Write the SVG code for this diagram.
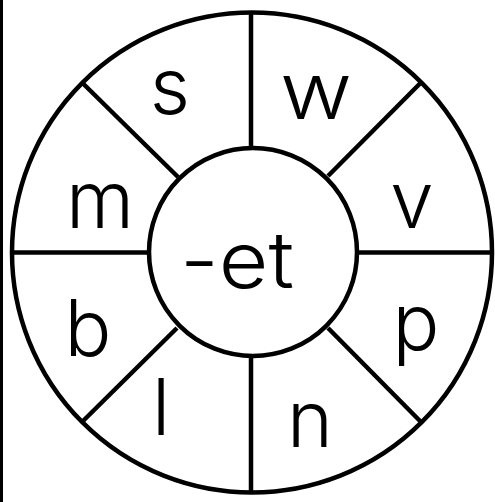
<svg xmlns="http://www.w3.org/2000/svg" width="495" height="502" viewBox="0 0 495 502">
<style>
.ln{stroke:#000;stroke-width:4.5;fill:none;stroke-linecap:butt}
.t{font-family:"Inter","Liberation Sans","DejaVu Sans",sans-serif;font-weight:300;font-size:78px;fill:#000;text-anchor:middle}
</style>
<rect x="0" y="0" width="495" height="502" fill="#fff"/>
<rect x="0" y="0" width="3" height="502" fill="#000"/>
<g id="wheel">
<circle class="ln" cx="252" cy="252.5" r="240"/>
<circle class="ln" cx="253" cy="252" r="104"/>
</g>
<g id="connectors">
<line class="ln" x1="251" y1="12.5" x2="251" y2="148"/>
<line class="ln" x1="251" y1="356" x2="251" y2="492.5"/>
<line class="ln" x1="12" y1="252.5" x2="149" y2="252.5"/>
<line class="ln" x1="357" y1="252.5" x2="492" y2="252.5"/>
<line class="ln" x1="82" y1="82.5" x2="178" y2="177"/>
<line class="ln" x1="421" y1="82.5" x2="328" y2="176"/>
<line class="ln" x1="82" y1="422" x2="177" y2="328"/>
<line class="ln" x1="421" y1="422" x2="328" y2="328"/>
</g>
<g id="center"><text class="t" x="237" y="288" textLength="114" lengthAdjust="spacingAndGlyphs">-et</text></g>
<g id="s"><text class="t" x="170" y="114">s</text></g>
<g id="w"><text class="t" x="316" y="119" textLength="72" lengthAdjust="spacingAndGlyphs">w</text></g>
<g id="m"><text class="t" x="100" y="228">m</text></g>
<g id="v"><text class="t" x="412" y="228">v</text></g>
<g id="b"><text class="t" x="88" y="356">b</text></g>
<g id="p"><text class="t" x="416" y="350">p</text></g>
<g id="l"><text class="t" x="161" y="435">l</text></g>
<g id="n"><text class="t" x="310" y="447">n</text></g>
</svg>
